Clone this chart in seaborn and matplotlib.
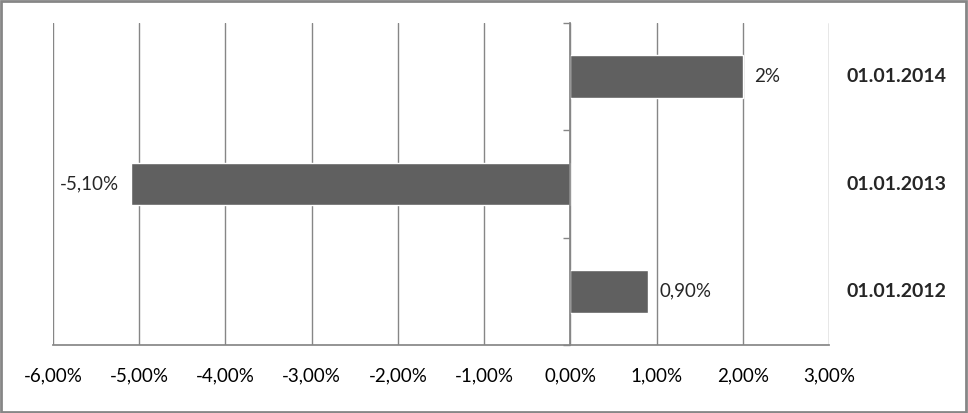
import numpy as np
import pandas as pd
import matplotlib as mpl
import matplotlib.pyplot as plt
import seaborn as sns
from matplotlib.patches import Rectangle

mpl.use("Agg")

# Data
dates = ["01.01.2014", "01.01.2013", "01.01.2012"]
changes = [2.0, -5.1, 0.9]  # percent
value_labels = ["2%", "-5,10%", "0,90%"]
x_ticks = [-6, -5, -4, -3, -2, -1, 0, 1, 2, 3]
x_tick_labels = ["-6,00%", "-5,00%", "-4,00%", "-3,00%", "-2,00%",
                 "-1,00%", "0,00%", "1,00%", "2,00%", "3,00%"]

BAR_COLOR = "#606060"
GRID_COLOR = "#868686"
FS = 13.5

sns.set_theme(style="white")
plt.rcParams["font.family"] = ["Lato", "DejaVu Sans"]

df = pd.DataFrame({"date": dates, "change": changes})

fig = plt.figure(figsize=(9.68, 4.13), dpi=100)
ax = fig.add_axes([0.0548, 0.1646, 0.8016, 0.7797])

sns.barplot(data=df, x="change", y="date", orient="h", color=BAR_COLOR,
            saturation=1, width=0.4, ax=ax)

ax.set_xlim(-6, 3)
ax.set_ylim(2.5, -0.5)
ax.set_xticks(x_ticks)
ax.set_xticklabels(x_tick_labels, fontsize=FS, color="#000000")
ax.tick_params(axis="x", which="major", direction="out", length=7,
               width=1, color=GRID_COLOR, pad=9)

# vertical gridlines
ax.grid(axis="x", color=GRID_COLOR, linewidth=1)
ax.set_axisbelow(True)

# category axis sits at 0 with separator ticks between categories
ax.spines["left"].set_position(("data", 0))
ax.spines["left"].set_color(GRID_COLOR)
ax.spines["bottom"].set_color(GRID_COLOR)
ax.spines["top"].set_visible(False)
ax.spines["right"].set_visible(False)
ax.set_yticks([])
ax.set_yticks([-0.5, 0.5, 1.5, 2.5], minor=True)
ax.tick_params(axis="y", which="minor", direction="out", length=5,
               width=1, color=GRID_COLOR, left=True)
ax.set_xlabel("")
ax.set_ylabel("")

# value labels
for i, (v, lab) in enumerate(zip(changes, value_labels)):
    if v >= 0:
        ax.text(v + 0.13, i, lab, ha="left", va="center", fontsize=FS)
    else:
        ax.text(v - 0.13, i, lab, ha="right", va="center", fontsize=FS)

# category labels on the right
trans = mpl.transforms.blended_transform_factory(fig.transFigure, ax.transData)
for i, d in enumerate(dates):
    ax.text(0.926, i, d, ha="center", va="center", fontsize=14,
            fontweight="bold", transform=trans)

# outer border
fig.patches.append(Rectangle((0.001, 0.002), 0.997, 0.995, transform=fig.transFigure,
                             fill=False, edgecolor="#868686", linewidth=2))

fig.savefig("out.png", dpi=100)
